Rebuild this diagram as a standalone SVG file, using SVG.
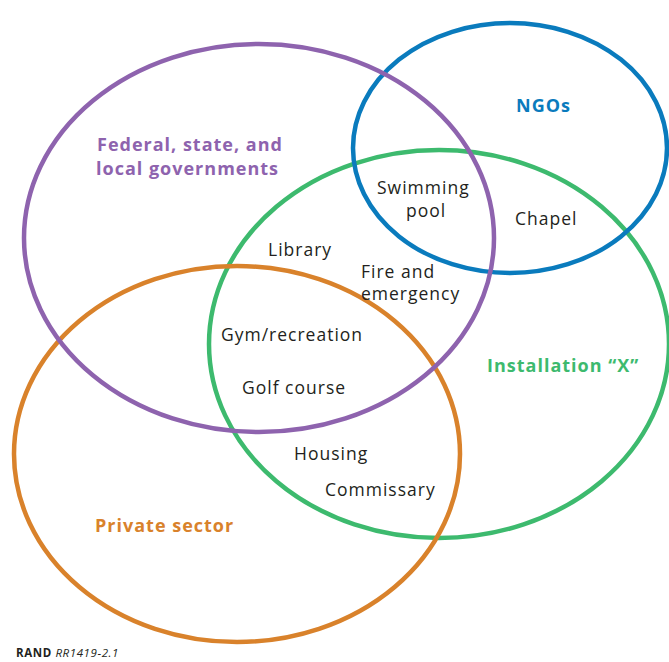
<svg xmlns="http://www.w3.org/2000/svg" width="669" height="662" viewBox="0 0 669 662">
<style>
.ring{fill:none;stroke-width:4.5}
.t{font-family:"Open Sans","Noto Sans",sans-serif;font-size:17.5px;letter-spacing:1px;fill:#231f20}
.h{font-family:"Open Sans","Noto Sans",sans-serif;font-size:18px;font-weight:bold;letter-spacing:1px}
</style>
<rect width="669" height="662" fill="#fff"/>
<g id="connectors"></g>
<g id="installation">
<ellipse class="ring" cx="439" cy="344" rx="230" ry="194" stroke="#3dba6e"/>
<text class="h" x="487" y="372" fill="#3dba6e">Installation “X”</text>
</g>
<g id="private">
<ellipse class="ring" cx="237" cy="454" rx="223" ry="188" stroke="#d9822b"/>
<text class="h" x="95" y="532" fill="#d9822b">Private sector</text>
</g>
<g id="ngos">
<ellipse class="ring" cx="510" cy="148" rx="157" ry="125" stroke="#0a7bbd"/>
<text class="h" x="516" y="112" fill="#0a7bbd">NGOs</text>
</g>
<g id="government">
<ellipse class="ring" cx="259" cy="238" rx="235" ry="194" stroke="#8e63ae"/>
<text class="h" x="97" y="151" fill="#8e63ae">Federal, state, and</text>
<text class="h" x="96" y="175" fill="#8e63ae">local governments</text>
</g>
<g id="items">
<text class="t" x="377" y="194">Swimming</text>
<text class="t" x="406" y="217">pool</text>
<text class="t" x="515" y="225">Chapel</text>
<text class="t" x="268" y="256">Library</text>
<text class="t" x="361" y="278">Fire and</text>
<text class="t" x="361" y="300">emergency</text>
<text class="t" x="221" y="341">Gym/recreation</text>
<text class="t" x="242" y="394">Golf course</text>
<text class="t" x="294" y="460">Housing</text>
<text class="t" x="325" y="496">Commissary</text>
</g>
<g id="credit">
<text x="16" y="657" style="font-family:'Open Sans','Noto Sans',sans-serif;font-size:11.5px;letter-spacing:0.6px;fill:#231f20"><tspan font-weight="bold">RAND</tspan> <tspan font-style="italic">RR1419-2.1</tspan></text>
</g>
</svg>
